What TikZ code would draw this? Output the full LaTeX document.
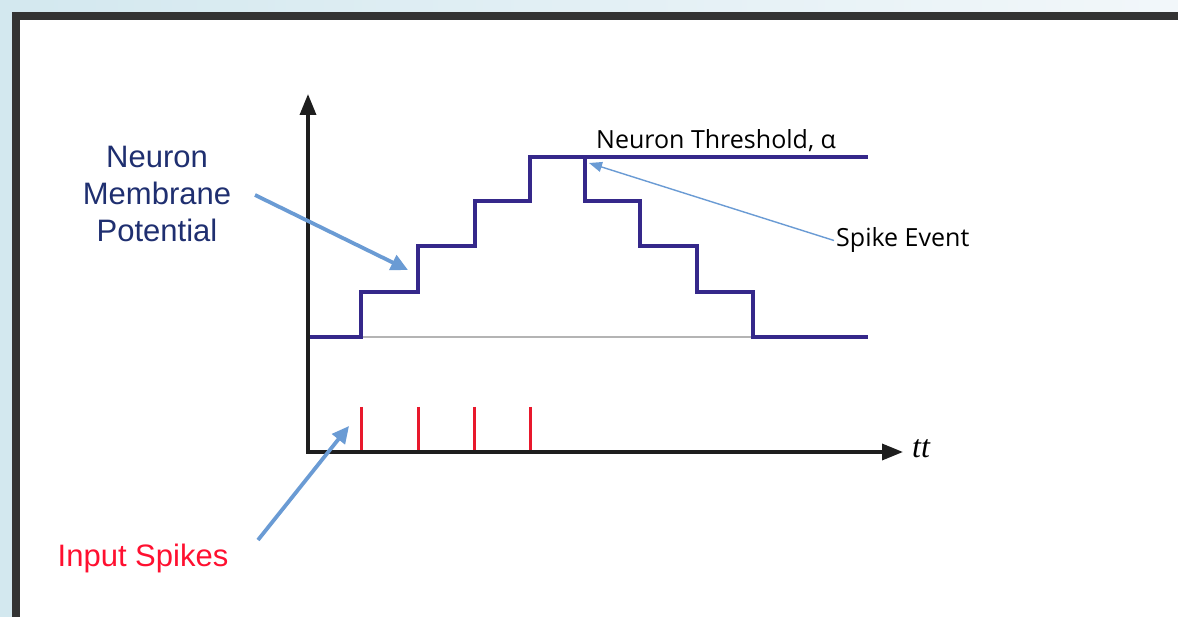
\documentclass[tikz,border=0pt]{standalone}
\usepackage{fontspec}
\setmainfont{Liberation Sans}
\newfontfamily\uifont{Open Sans}
\newfontfamily\serifit{Liberation Serif}
\usetikzlibrary{arrows.meta}
\definecolor{bgblue}{HTML}{D3E8EF}
\definecolor{bgpale}{HTML}{F2F7FA}
\definecolor{framegray}{HTML}{333333}
\definecolor{membrane}{HTML}{35288A}
\definecolor{navytext}{HTML}{1F2F70}
\definecolor{spikered}{HTML}{E8182C}
\definecolor{labelred}{HTML}{FF1030}
\definecolor{pointer}{HTML}{6A9BD4}
\definecolor{restgray}{HTML}{B4B4B4}
\definecolor{axisblack}{HTML}{1E1E1E}
\tikzset{
  axisline/.style={axisblack, line width=3.4pt, -{Triangle[length=21pt,width=16pt]}},
  potential/.style={membrane, line width=3.4pt, line join=miter},
  spikeline/.style={spikered, line width=3pt},
  bluepointer/.style={pointer, line width=3.8pt, -{Triangle[length=17pt,width=16pt]}},
  thinpointer/.style={pointer, line width=1.4pt, -{Triangle[length=13pt,width=10pt]}},
  sanslabel/.style={inner sep=0pt},
}
\begin{document}
\begin{tikzpicture}[x=1pt,y=-1pt]
\useasboundingbox (0,0) rectangle (1178,617);
% backdrop and frame
\shade[left color=bgblue, right color=bgpale] (0,0) rectangle (1178,617);
\fill[white] (20,20) rectangle (1178,617);
\draw[framegray, line width=8pt] (16,617) -- (16,16) -- (1178,16);

% resting level
\draw[restgray, line width=2.2pt] (308,337) -- (868,337);

% membrane potential: rising steps, threshold, decay
\draw[potential] (308,337) -- (361,337) -- (361,292) -- (418,292) -- (418,246)
  -- (475,246) -- (475,201) -- (530,201) -- (530,157) -- (868,157);
\draw[potential] (585,157) -- (585,201) -- (640,201) -- (640,246) -- (697,246)
  -- (697,292) -- (753,292) -- (753,337) -- (868,337);

% input spikes
\foreach \sx in {361,418,474,530}
  \draw[spikeline] (\sx,407) -- (\sx,452);

% axes
\coordinate (origin) at (308,452);
\coordinate (ytip) at (308,94);
\coordinate (xtip) at (903,452);
\draw[axisline] (origin) -- (ytip);
\draw[axisline] ([xshift=-1.7pt]origin) -- (xtip);
\node[font=\serifit\itshape\fontsize{32}{32}\selectfont] (tlabel) at (921,449) {tt};

% labels
\node[navytext, align=center, font=\fontsize{31}{37}\selectfont] (mplabel) at (157,194)
  {Neuron\\Membrane\\Potential};
\node[labelred, font=\fontsize{31}{35}\selectfont] (inlabel) at (143,558) {Input Spikes};
\node[sanslabel, anchor=base west, font=\uifont\fontsize{25}{30}\selectfont] (thrlabel)
  at (596,149) {Neuron Threshold, α};
\node[sanslabel, anchor=base west, font=\uifont\fontsize{25}{30}\selectfont] (selabel)
  at (836,247) {Spike Event};

% pointers
\coordinate (mpfrom) at (255,195);
\coordinate (mpto) at (408,270);
\coordinate (infrom) at (258,540);
\coordinate (into) at (349,426);
\coordinate (seto) at (589,163);
\draw[bluepointer] (mpfrom) -- (mpto);
\draw[bluepointer] (infrom) -- (into);
\draw[thinpointer] ([xshift=-2pt]selabel.west) -- (seto);
\end{tikzpicture}
\end{document}
